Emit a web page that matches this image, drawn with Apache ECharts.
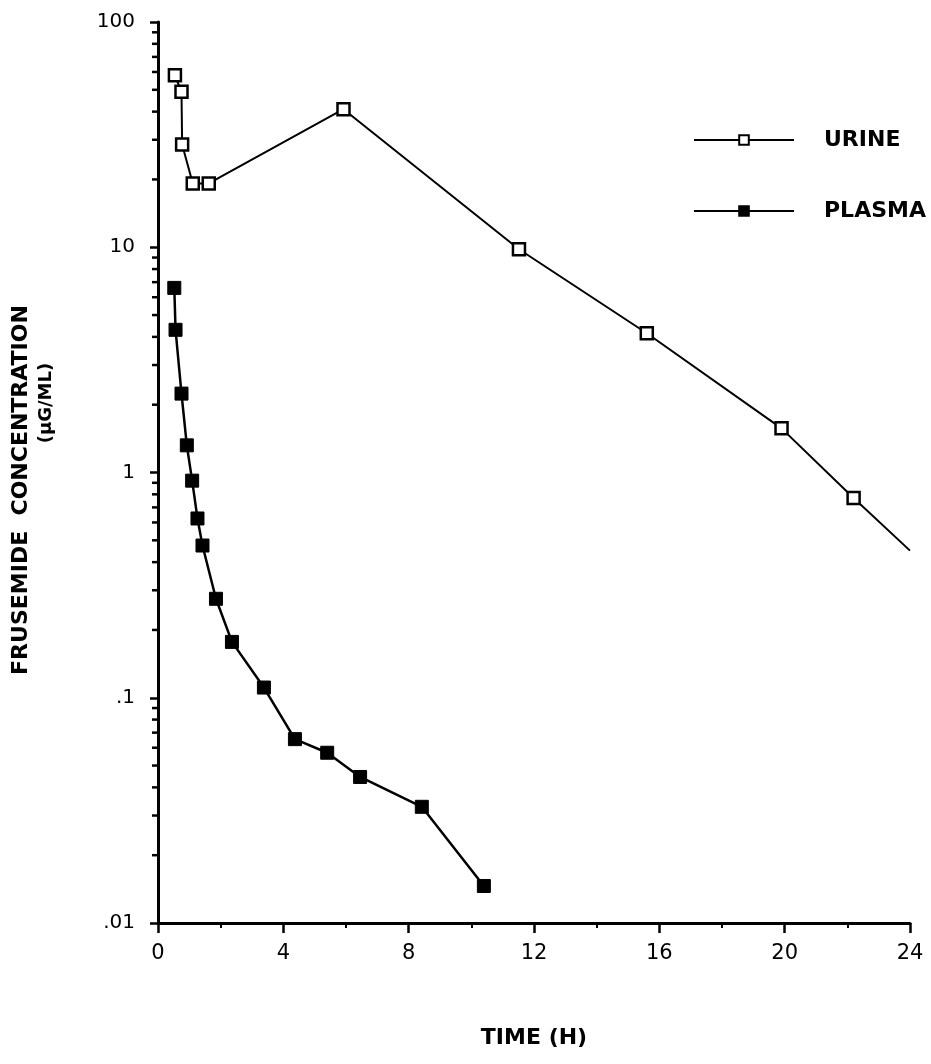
<!DOCTYPE html>
<html>
<head>
<meta charset="utf-8">
<script src="https://cdn.jsdelivr.net/npm/echarts@6/dist/echarts.min.js"></script>
<style>
html,body{margin:0;padding:0;background:#fff;}
#chart{width:931px;height:1064px;}
</style>
</head>
<body>
<div id="chart"></div>
<script>
// Data
const urineTime = [0.54, 0.75, 0.77, 1.11, 1.62, 5.92, 11.52, 15.6, 19.9, 22.2, 24];
const urineConc = [58, 49, 28.6, 19.2, 19.2, 41, 9.8, 4.15, 1.57, 0.77, 0.45];
const plasmaTime = [0.52, 0.56, 0.75, 0.92, 1.09, 1.26, 1.42, 1.85, 2.36, 3.38, 4.37, 5.4, 6.45, 8.42, 10.4];
const plasmaConc = [6.6, 4.3, 2.24, 1.32, 0.92, 0.625, 0.474, 0.275, 0.177, 0.111, 0.0655, 0.057, 0.0445, 0.0328, 0.0146];
const xTicks = [0, 4, 8, 12, 16, 20, 24];
const yTickLabels = {0.01: '.01', 0.1: '.1', 1: '1', 10: '10', 100: '100'};

const FONT = '"DejaVu Sans", "Liberation Sans", Arial, sans-serif';

const chart = echarts.init(document.getElementById('chart'), null, {renderer: 'canvas'});

function pairs(xs, ys) { return xs.map((x, i) => [x, ys[i]]); }
const urineData = pairs(urineTime, urineConc).map((p, i, arr) =>
  i === arr.length - 1 ? {value: p, symbol: 'none'} : p);

const option = {
  animation: false,
  backgroundColor: '#fff',
  grid: {left: 158, right: 21, top: 22, bottom: 141, containLabel: false},
  legend: {
    orient: 'vertical',
    left: 688,
    top: 124,
    itemWidth: 100,
    itemHeight: 12,
    itemGap: 49,
    data: ['URINE', 'PLASMA'],
    textStyle: {fontFamily: FONT, fontWeight: 'bold', fontSize: 22, lineHeight: 22, color: '#000', padding: [0, 0, 0, 25]}
  },
  xAxis: {
    type: 'value',
    min: 0, max: 24, interval: 4,
    name: 'TIME (H)',
    nameLocation: 'middle',
    nameGap: 104,
    nameTextStyle: {fontFamily: FONT, fontWeight: 'bold', fontSize: 22, color: '#000'},
    axisLine: {lineStyle: {color: '#000', width: 3}},
    axisTick: {show: true, length: 10, lineStyle: {color: '#000', width: 2.5}},
    minorTick: {show: true, splitNumber: 2, length: 5, lineStyle: {color: '#000', width: 2}},
    splitLine: {show: false},
    axisLabel: {fontFamily: FONT, fontSize: 21, color: '#000', margin: 20,
      formatter: v => xTicks.includes(v) ? String(v) : ''}
  },
  yAxis: {
    type: 'log',
    logBase: 10,
    min: 0.01, max: 100,
    axisLine: {show: true, lineStyle: {color: '#000', width: 3}},
    axisTick: {show: true, length: 8, lineStyle: {color: '#000', width: 2.5}},
    splitLine: {show: false},
    axisLabel: {fontFamily: FONT, fontSize: 20, color: '#000', margin: 23,
      formatter: v => yTickLabels[+v.toPrecision(3)] || ''}
  },
  series: [
    {
      name: 'URINE', type: 'line', data: urineData,
      symbol: 'rect', symbolSize: 12,
      lineStyle: {color: '#000', width: 2},
      itemStyle: {color: '#fff', borderColor: '#000', borderWidth: 2.5},
      z: 3
    },
    {
      name: 'PLASMA', type: 'line', data: pairs(plasmaTime, plasmaConc),
      symbol: 'rect', symbolSize: 13,
      lineStyle: {color: '#000', width: 2.5},
      itemStyle: {color: '#000', borderColor: '#000', borderWidth: 1},
      z: 3
    }
  ]
};
chart.setOption(option);

// Minor ticks on the log axis at 2..9 of each decade, positioned via the axis scale
const decades = [0.01, 0.1, 1, 10];
const x0 = chart.convertToPixel({xAxisIndex: 0}, 0);
const extra = [];
decades.forEach(d => {
  for (let k = 2; k <= 9; k++) {
    const py = chart.convertToPixel({yAxisIndex: 0}, d * k);
    extra.push({type: 'line', shape: {x1: x0 - 6, y1: py, x2: x0, y2: py},
      style: {stroke: '#000', lineWidth: 2.5}, silent: true});
  }
});
extra.push({type: 'text', x: 21, y: 490, rotation: Math.PI / 2,
  style: {text: 'FRUSEMIDE  CONCENTRATION', font: 'bold 22px ' + FONT, fill: '#000', align: 'center', verticalAlign: 'middle'}});
extra.push({type: 'text', x: 46, y: 403, rotation: Math.PI / 2,
  style: {text: '(\u00B5G/ML)', font: 'bold 18px ' + FONT, fill: '#000', align: 'center', verticalAlign: 'middle'}});
chart.setOption({graphic: extra});
</script>
</body>
</html>
